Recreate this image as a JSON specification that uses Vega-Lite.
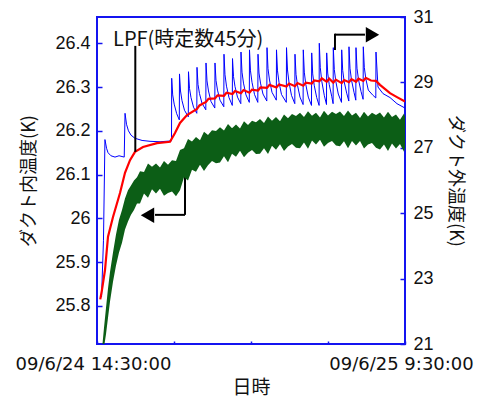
{
  "$schema": "https://vega.github.io/schema/vega-lite/v6.json",
  "width": 308,
  "height": 327,
  "autosize": {"type": "none"},
  "padding": {"left": 97, "top": 17, "right": 72, "bottom": 54},
  "background": "white",
  "config": {
    "view": {"stroke": "#1414f0", "strokeWidth": 2},
    "axis": {
      "domain": false, "grid": false, "tickColor": "#1414f0", "tickWidth": 1.5,
      "labelColor": "#111111", "labelFont": "Liberation Sans", "labelFontSize": 18,
      "titleFont": "Noto Sans CJK JP", "titleFontSize": 18, "titleFontWeight": "normal", "titleColor": "#111111"
    }
  },
  "datasets": {
    "blue": [
      {"h":0.28,"v":25.82},{"h":0.40,"v":25.95},{"h":0.49,"v":26.18},{"h":0.59,"v":26.16},{"h":0.68,"v":26.15},
      {"h":0.86,"v":26.143},{"h":1.11,"v":26.14},{"h":1.36,"v":26.143},{"h":1.68,"v":26.14},{"h":1.73,"v":26.24},
      {"h":1.82,"v":26.215},{"h":1.94,"v":26.2},{"h":2.10,"v":26.19},{"h":2.34,"v":26.183},{"h":2.78,"v":26.178},
      {"h":3.27,"v":26.176},{"h":3.89,"v":26.175},{"h":4.596,"v":26.177},
      {"h":4.608,"v":26.32},{"h":4.670,"v":26.282},{"h":4.762,"v":26.261},{"h":4.916,"v":26.239},{"h":5.077,"v":26.225},
      {"h":5.089,"v":26.33},{"h":5.151,"v":26.291},{"h":5.243,"v":26.269},{"h":5.397,"v":26.247},{"h":5.632,"v":26.232},
      {"h":5.644,"v":26.335},{"h":5.706,"v":26.297},{"h":5.798,"v":26.276},{"h":5.953,"v":26.254},{"h":6.157,"v":26.24},
      {"h":6.169,"v":26.345},{"h":6.231,"v":26.306},{"h":6.323,"v":26.285},{"h":6.477,"v":26.263},{"h":6.712,"v":26.248},
      {"h":6.724,"v":26.355},{"h":6.786,"v":26.314},{"h":6.878,"v":26.291},{"h":7.032,"v":26.267},{"h":7.267,"v":26.252},
      {"h":7.279,"v":26.355},{"h":7.341,"v":26.315},{"h":7.433,"v":26.293},{"h":7.587,"v":26.27},{"h":7.822,"v":26.255},
      {"h":7.834,"v":26.375},{"h":7.896,"v":26.328},{"h":7.988,"v":26.302},{"h":8.142,"v":26.276},{"h":8.346,"v":26.258},
      {"h":8.359,"v":26.365},{"h":8.421,"v":26.324},{"h":8.513,"v":26.301},{"h":8.667,"v":26.277},{"h":8.871,"v":26.262},
      {"h":8.883,"v":26.38},{"h":8.945,"v":26.334},{"h":9.037,"v":26.309},{"h":9.191,"v":26.282},{"h":9.395,"v":26.265},
      {"h":9.407,"v":26.385},{"h":9.469,"v":26.337},{"h":9.561,"v":26.311},{"h":9.716,"v":26.283},{"h":9.92,"v":26.265},
      {"h":9.932,"v":26.375},{"h":9.994,"v":26.332},{"h":10.086,"v":26.309},{"h":10.24,"v":26.284},{"h":10.475,"v":26.268},
      {"h":10.487,"v":26.39},{"h":10.549,"v":26.342},{"h":10.641,"v":26.316},{"h":10.795,"v":26.288},{"h":11.061,"v":26.27},
      {"h":11.073,"v":26.385},{"h":11.135,"v":26.337},{"h":11.227,"v":26.311},{"h":11.381,"v":26.283},{"h":11.678,"v":26.265},
      {"h":11.69,"v":26.39},{"h":11.752,"v":26.339},{"h":11.844,"v":26.311},{"h":11.998,"v":26.281},{"h":12.202,"v":26.262},
      {"h":12.214,"v":26.375},{"h":12.276,"v":26.329},{"h":12.368,"v":26.304},{"h":12.522,"v":26.277},{"h":12.714,"v":26.26},
      {"h":12.726,"v":26.385},{"h":12.788,"v":26.334},{"h":12.88,"v":26.306},{"h":13.034,"v":26.277},{"h":13.232,"v":26.258},
      {"h":13.245,"v":26.378},{"h":13.307,"v":26.33},{"h":13.399,"v":26.304},{"h":13.553,"v":26.276},{"h":13.701,"v":26.258},
      {"h":13.713,"v":26.4},{"h":13.775,"v":26.344},{"h":13.867,"v":26.313},{"h":14.021,"v":26.281},{"h":14.157,"v":26.26},
      {"h":14.17,"v":26.378},{"h":14.232,"v":26.332},{"h":14.324,"v":26.306},{"h":14.478,"v":26.279},{"h":14.565,"v":26.262},
      {"h":14.577,"v":26.39},{"h":14.639,"v":26.34},{"h":14.731,"v":26.313},{"h":14.885,"v":26.284},{"h":15.083,"v":26.265},
      {"h":15.095,"v":26.385},{"h":15.157,"v":26.338},{"h":15.249,"v":26.312},{"h":15.403,"v":26.286},{"h":15.533,"v":26.268},
      {"h":15.545,"v":26.392},{"h":15.607,"v":26.343},{"h":15.699,"v":26.316},{"h":15.854,"v":26.288},{"h":15.965,"v":26.27},
      {"h":15.977,"v":26.39},{"h":16.039,"v":26.343},{"h":16.131,"v":26.317},{"h":16.286,"v":26.29},{"h":16.415,"v":26.272},
      {"h":16.428,"v":26.392},{"h":16.49,"v":26.345},{"h":16.582,"v":26.319},{"h":16.736,"v":26.293},{"h":17.0,"v":26.282},{"h":17.199,"v":26.275},
      {"h":17.211,"v":26.38},{"h":17.334,"v":26.3},{"h":17.642,"v":26.285},{"h":18.074,"v":26.276},{"h":18.506,"v":26.262},{"h":19.0,"v":26.252}
    ],
    "red": [
      {"h":0.20,"v":25.815},{"h":0.30,"v":25.835},{"h":0.494,"v":25.882},{"h":0.679,"v":25.958},{"h":0.987,"v":26.003},
      {"h":1.419,"v":26.058},{"h":1.727,"v":26.104},{"h":2.036,"v":26.133},{"h":2.344,"v":26.152},{"h":2.838,"v":26.163},
      {"h":3.701,"v":26.172},{"h":4.503,"v":26.175},{"h":4.812,"v":26.195},{"h":5.12,"v":26.218},{"h":5.552,"v":26.236},
      {"h":6.169,"v":26.25},{"h":6.323,"v":26.258},{"h":6.724,"v":26.266},{"h":6.878,"v":26.273},{"h":7.279,"v":26.274},
      {"h":7.433,"v":26.281},{"h":7.834,"v":26.28},{"h":7.988,"v":26.287},{"h":8.359,"v":26.284},{"h":8.513,"v":26.291},
      {"h":8.883,"v":26.286},{"h":9.037,"v":26.293},{"h":9.407,"v":26.287},{"h":9.561,"v":26.294},{"h":9.932,"v":26.292},
      {"h":10.086,"v":26.299},{"h":10.487,"v":26.298},{"h":10.641,"v":26.305},{"h":11.073,"v":26.299},{"h":11.227,"v":26.306},
      {"h":11.69,"v":26.301},{"h":11.844,"v":26.308},{"h":12.214,"v":26.302},{"h":12.368,"v":26.309},{"h":12.726,"v":26.303},
      {"h":12.88,"v":26.31},{"h":13.245,"v":26.308},{"h":13.399,"v":26.315},{"h":13.713,"v":26.313},{"h":13.867,"v":26.32},
      {"h":14.17,"v":26.312},{"h":14.324,"v":26.319},{"h":14.577,"v":26.31},{"h":14.731,"v":26.317},{"h":15.095,"v":26.309},
      {"h":15.249,"v":26.316},{"h":15.545,"v":26.311},{"h":15.699,"v":26.318},{"h":15.977,"v":26.312},{"h":16.131,"v":26.319},
      {"h":16.428,"v":26.314},{"h":16.582,"v":26.321},{"h":16.9,"v":26.315},{"h":17.211,"v":26.314},{"h":17.457,"v":26.305},
      {"h":18.074,"v":26.286},{"h":18.506,"v":26.277},{"h":19.0,"v":26.267}
    ],
    "green": [
      {"h":0.339,"lo":20.6,"hi":21.0},{"h":0.432,"lo":20.9,"hi":21.5},{"h":0.555,"lo":21.3,"hi":22.1},{"h":0.679,"lo":21.8,"hi":22.7},
      {"h":0.802,"lo":22.3,"hi":23.2},{"h":0.987,"lo":22.9,"hi":23.8},{"h":1.172,"lo":23.4,"hi":24.35},{"h":1.357,"lo":23.8,"hi":24.8},
      {"h":1.542,"lo":24.1,"hi":25.1},{"h":1.727,"lo":24.5,"hi":25.45},{"h":1.912,"lo":24.75,"hi":25.7},{"h":2.097,"lo":24.95,"hi":25.85},
      {"h":2.282,"lo":25.1,"hi":26.0},{"h":2.468,"lo":25.3,"hi":26.1},
      {"h":2.653,"lo":25.30,"hi":26.28},{"h":2.899,"lo":25.60,"hi":26.26},{"h":3.146,"lo":25.47,"hi":26.52},{"h":3.393,"lo":25.73,"hi":26.42},
      {"h":3.640,"lo":25.60,"hi":26.52},{"h":3.886,"lo":25.75,"hi":26.40},{"h":4.133,"lo":25.53,"hi":26.60},{"h":4.380,"lo":25.62,"hi":26.48},
      {"h":4.627,"lo":25.66,"hi":26.62},{"h":4.873,"lo":25.52,"hi":26.60},{"h":5.120,"lo":25.70,"hi":26.93},{"h":5.367,"lo":26.10,"hi":26.99},
      {"h":5.614,"lo":26.00,"hi":27.27},{"h":5.860,"lo":26.33,"hi":27.19},{"h":6.107,"lo":26.27,"hi":27.33},{"h":6.354,"lo":26.48,"hi":27.23},
      {"h":6.601,"lo":26.29,"hi":27.49},{"h":6.847,"lo":26.47,"hi":27.39},{"h":7.094,"lo":26.60,"hi":27.54},{"h":7.341,"lo":26.53,"hi":27.51},
      {"h":7.588,"lo":26.55,"hi":27.63},{"h":7.834,"lo":26.74,"hi":27.53},{"h":8.081,"lo":26.56,"hi":27.73},{"h":8.328,"lo":26.82,"hi":27.60},
      {"h":8.575,"lo":26.73,"hi":27.71},{"h":8.821,"lo":26.91,"hi":27.59},{"h":9.068,"lo":26.71,"hi":27.81},{"h":9.315,"lo":26.85,"hi":27.70},
      {"h":9.562,"lo":26.93,"hi":27.83},{"h":9.808,"lo":26.81,"hi":27.78},{"h":10.055,"lo":26.82,"hi":27.88},{"h":10.302,"lo":26.99,"hi":27.76},
      {"h":10.549,"lo":26.81,"hi":27.96},{"h":10.795,"lo":27.06,"hi":27.83},{"h":11.042,"lo":26.94,"hi":27.94},{"h":11.289,"lo":27.11,"hi":27.81},
      {"h":11.536,"lo":26.90,"hi":28.02},{"h":11.782,"lo":27.04,"hi":27.90},{"h":12.029,"lo":27.12,"hi":28.03},{"h":12.276,"lo":27.00,"hi":27.97},
      {"h":12.523,"lo":26.99,"hi":28.07},{"h":12.769,"lo":27.16,"hi":27.94},{"h":13.016,"lo":26.97,"hi":28.12},{"h":13.263,"lo":27.22,"hi":27.98},
      {"h":13.510,"lo":27.10,"hi":28.07},{"h":13.756,"lo":27.25,"hi":27.93},{"h":14.003,"lo":27.03,"hi":28.13},{"h":14.250,"lo":27.15,"hi":27.99},
      {"h":14.497,"lo":27.21,"hi":28.10},{"h":14.743,"lo":27.07,"hi":28.03},{"h":14.990,"lo":27.05,"hi":28.11},{"h":15.237,"lo":27.20,"hi":27.97},
      {"h":15.484,"lo":26.99,"hi":28.14},{"h":15.730,"lo":27.21,"hi":27.99},{"h":15.977,"lo":27.07,"hi":28.07},{"h":16.224,"lo":27.21,"hi":27.91},
      {"h":16.471,"lo":26.98,"hi":28.10},{"h":16.717,"lo":27.10,"hi":27.96},{"h":16.964,"lo":27.15,"hi":28.07},{"h":17.211,"lo":27.00,"hi":28.00},
      {"h":17.458,"lo":26.95,"hi":28.08},{"h":17.704,"lo":27.10,"hi":27.93},{"h":17.951,"lo":26.90,"hi":28.10},{"h":18.198,"lo":27.13,"hi":27.94},
      {"h":18.445,"lo":26.98,"hi":28.02},{"h":18.691,"lo":27.12,"hi":27.86},{"h":18.938,"lo":26.88,"hi":28.05},{"h":19.0,"lo":27.0,"hi":27.95}
    ]
  },
  "layer": [
    {
      "layer": [
        {
          "data": {"name": "blue"},
          "mark": {"type": "line", "color": "#0000ff", "strokeWidth": 1, "clip": true},
          "encoding": {
            "x": {"field": "h", "type": "quantitative", "scale": {"domain": [0, 19], "nice": false, "zero": false},
              "axis": {"title": "日時", "values": [0, 4.75, 9.5, 14.25, 19], "tickSize": -3, "labelPadding": 14, "labelFont": "DejaVu Sans", "labelFlush": false, "labelOverlap": false, "labelOffset": -4, "titlePadding": 5, "titleFontSize": 19,
                "labelExpr": "datum.value == 0 ? '09/6/24 14:30:00' : (datum.value == 19 ? '09/6/25 9:30:00' : '')"}},
            "y": {"field": "v", "type": "quantitative", "scale": {"domain": [25.713, 26.46], "nice": false, "zero": false},
              "axis": {"title": "ダクト内温度(K)", "orient": "left", "values": [25.8, 25.9, 26, 26.1, 26.2, 26.3, 26.4], "format": "~g", "tickSize": -5, "labelPadding": 12, "titlePadding": 16}}
          }
        },
        {
          "data": {"name": "red"},
          "mark": {"type": "line", "color": "#ff0000", "strokeWidth": 2.2, "clip": true},
          "encoding": {
            "x": {"field": "h", "type": "quantitative"},
            "y": {"field": "v", "type": "quantitative"}
          }
        },
        {
          "data": {"values": [
            {"h": 2.363, "h2": 2.363, "v": 26.394, "v2": 26.152},
            {"h": 5.43, "h2": 5.43, "v": 26.111, "v2": 26.008},
            {"h": 3.578, "h2": 5.43, "v": 26.008, "v2": 26.008}
          ]},
          "mark": {"type": "rule", "color": "#000000", "strokeWidth": 2},
          "encoding": {
            "x": {"field": "h", "type": "quantitative"},
            "x2": {"field": "h2"},
            "y": {"field": "v", "type": "quantitative"},
            "y2": {"field": "v2"}
          }
        },
        {
          "data": {"values": [{"h": 3.115, "v": 26.007}]},
          "mark": {"type": "point", "shape": "triangle-left", "filled": true, "color": "#000000", "size": 240, "opacity": 1},
          "encoding": {
            "x": {"field": "h", "type": "quantitative"},
            "y": {"field": "v", "type": "quantitative"}
          }
        },
        {
          "data": {"values": [{"h": 0.99, "v": 26.408, "t": "LPF(時定数45分)"}]},
          "mark": {"type": "text", "align": "left", "baseline": "middle", "font": "Noto Sans CJK JP", "fontSize": 20, "color": "#111111"},
          "encoding": {
            "x": {"field": "h", "type": "quantitative"},
            "y": {"field": "v", "type": "quantitative"},
            "text": {"field": "t"}
          }
        }
      ]
    },
    {
      "layer": [
        {
          "data": {"name": "green"},
          "mark": {"type": "area", "color": "#0c5e16", "clip": true, "opacity": 1},
          "encoding": {
            "x": {"field": "h", "type": "quantitative"},
            "y": {"field": "lo", "type": "quantitative", "scale": {"domain": [21, 31], "nice": false, "zero": false},
              "axis": {"title": "ダクト外温度(K)", "orient": "right", "values": [21, 23, 25, 27, 29, 31], "tickSize": -5, "labelPadding": 13, "titlePadding": 12}},
            "y2": {"field": "hi"}
          }
        },
        {
          "data": {"values": [
            {"h": 14.68, "h2": 14.68, "v": 30.49, "v2": 29.99},
            {"h": 14.68, "h2": 16.53, "v": 30.46, "v2": 30.46}
          ]},
          "mark": {"type": "rule", "color": "#000000", "strokeWidth": 2},
          "encoding": {
            "x": {"field": "h", "type": "quantitative"},
            "x2": {"field": "h2"},
            "y": {"field": "v", "type": "quantitative"},
            "y2": {"field": "v2"}
          }
        },
        {
          "data": {"values": [{"h": 16.995, "v": 30.46}]},
          "mark": {"type": "point", "shape": "triangle-right", "filled": true, "color": "#000000", "size": 240, "opacity": 1},
          "encoding": {
            "x": {"field": "h", "type": "quantitative"},
            "y": {"field": "v", "type": "quantitative"}
          }
        }
      ]
    }
  ],
  "resolve": {"scale": {"y": "independent"}, "axis": {"y": "independent"}}
}
